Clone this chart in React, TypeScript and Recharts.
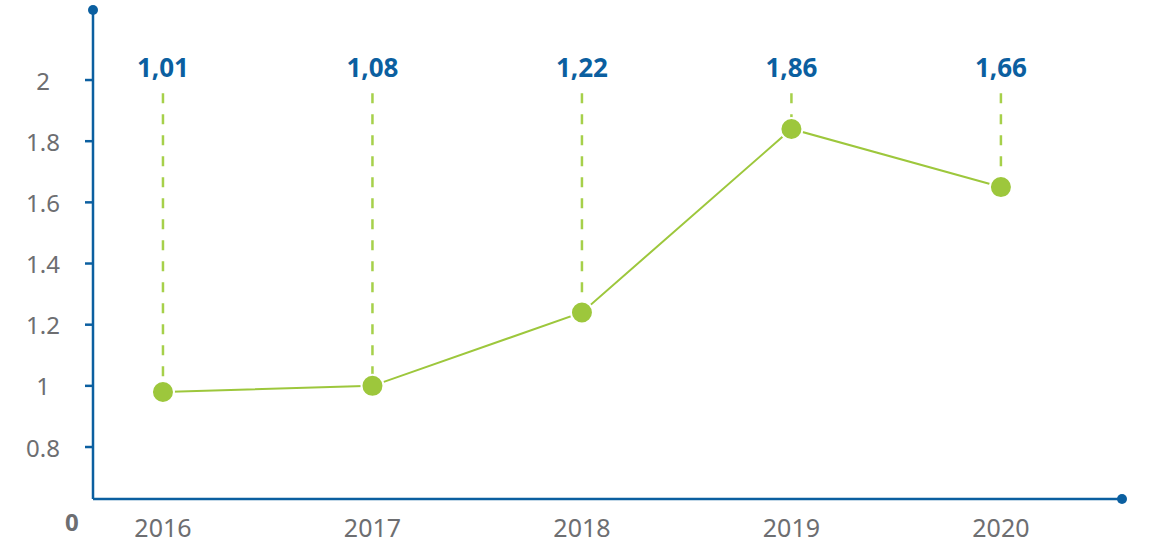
import { LineChart, Line, XAxis, YAxis, ReferenceLine, ReferenceDot } from 'recharts';

const years = [2016, 2017, 2018, 2019, 2020];
const values = [0.98, 1.0, 1.24, 1.84, 1.65];
const valueLabels = ['1,01', '1,08', '1,22', '1,86', '1,66'];
const yTicks = [0.8, 1, 1.2, 1.4, 1.6, 1.8, 2];

const BLUE = '#0b5fa0';
const GREEN = '#9dc73c';
const GREY = '#6d6e71';
const Y_MIN = 0.63;
const Y_MAX = 2.229;
const X_MIN = 2015.666;
const X_MAX = 2020.578;
const LABEL_Y = 2.043;
const DASH_TOP = 1.957;

const data = years.map((year, i) => ({ year, value: values[i], label: valueLabels[i] }));

const ValueLabel = (props: any) => {
  const { viewBox, value } = props;
  const cx = viewBox.x + (viewBox.width || 0) / 2;
  const cy = viewBox.y + (viewBox.height || 0) / 2;
  return (
    <text x={cx} y={cy} textAnchor="middle" dominantBaseline="central" fill={BLUE}
      fontFamily="Noto Sans" fontWeight={700} fontSize={26}>
      {value}
    </text>
  );
};

// y tick labels are centred in the left gutter, not right-aligned
const YTick = (props: any) => {
  const { y, payload } = props;
  return (
    <text x={43} y={y} textAnchor="middle" dominantBaseline="central" fill={GREY}
      fontFamily="Noto Sans" fontSize={24}>
      {payload.value}
    </text>
  );
};

export default function App() {
  return (
    <div style={{ position: 'absolute', left: 0, top: 0, width: 1151, height: 544, background: '#fff' }}>
      <LineChart width={1151} height={544} data={data} margin={{ top: 10, right: 29, bottom: 0, left: 0 }}>
        <XAxis
          dataKey="year"
          type="number"
          domain={[X_MIN, X_MAX]}
          ticks={years}
          allowDataOverflow
          height={45}
          tickLine={false}
          axisLine={{ stroke: BLUE, strokeWidth: 2.5 }}
          tick={{ fill: GREY, fontSize: 25, fontFamily: 'Noto Sans' }}
          tickMargin={14}
        />
        <YAxis
          type="number"
          domain={[Y_MIN, Y_MAX]}
          ticks={yTicks}
          allowDataOverflow
          width={93}
          tickSize={8}
          tickLine={{ stroke: BLUE, strokeWidth: 2.5 }}
          axisLine={{ stroke: BLUE, strokeWidth: 2.5 }}
          tick={<YTick />}
        />
        {data.map((d) => (
          <ReferenceLine
            key={'dash' + d.year}
            segment={[{ x: d.year, y: DASH_TOP }, { x: d.year, y: d.value + 0.03 }]}
            stroke="#a6d04a"
            strokeWidth={2.5}
            strokeDasharray="10 11"
          />
        ))}
        {data.map((d) => (
          <ReferenceDot
            key={'lbl' + d.year}
            x={d.year}
            y={LABEL_Y}
            r={0}
            fill="none"
            stroke="none"
            label={<ValueLabel value={d.label} />}
          />
        ))}
        <ReferenceDot x={X_MIN} y={Y_MAX} r={5} fill={BLUE} stroke="none" ifOverflow="visible" />
        <ReferenceDot x={X_MAX} y={Y_MIN} r={5} fill={BLUE} stroke="none" ifOverflow="visible" />
        <Line
          type="linear"
          dataKey="value"
          stroke={GREEN}
          strokeWidth={2}
          dot={{ r: 11, fill: GREEN, stroke: '#fff', strokeWidth: 2 }}
          activeDot={false}
          isAnimationActive={false}
        />
      </LineChart>
      <div style={{ position: 'absolute', left: 65, top: 505, fontFamily: 'Noto Sans', fontWeight: 700, fontSize: 24, color: GREY }}>
        0
      </div>
    </div>
  );
}
